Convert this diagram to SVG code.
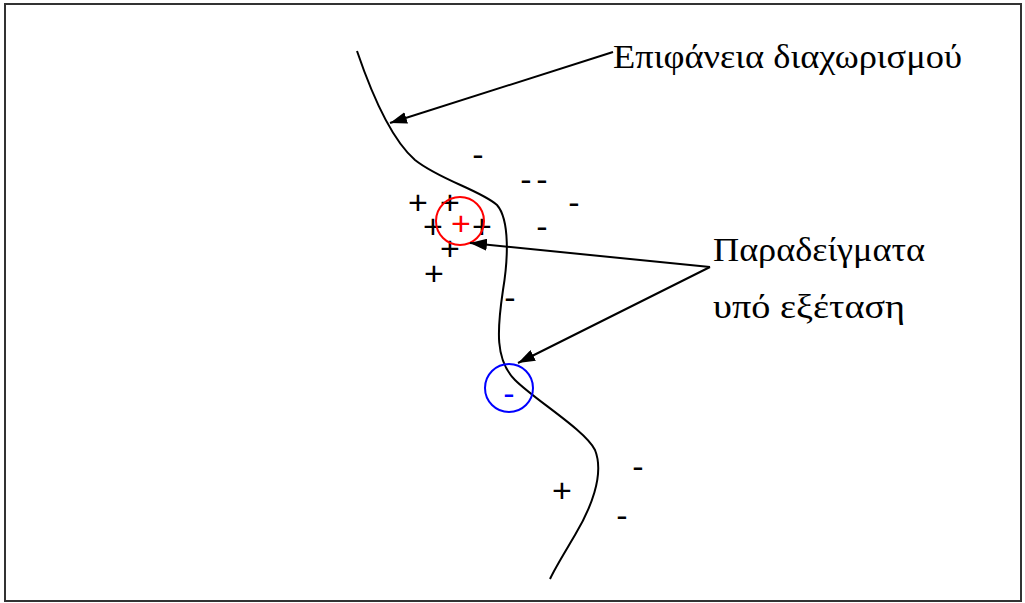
<svg xmlns="http://www.w3.org/2000/svg" width="1025" height="603" viewBox="0 0 1025 603">
<defs>
<marker id="ah" viewBox="0 0 17 12" markerUnits="userSpaceOnUse" markerWidth="17" markerHeight="12" refX="17" refY="6" orient="auto">
<path d="M0,0 L17,6 L0,12 z" fill="#000"/>
</marker>
</defs>
<style>
.lbl{font-family:"Liberation Serif","DejaVu Serif",serif;font-size:34px;fill:#000}
.sym{font-family:"Liberation Sans",Arial,sans-serif;font-size:34px;text-anchor:middle;fill:#000}
.conn{stroke:#000;stroke-width:2;fill:none}
</style>
<rect x="5" y="4" width="1016" height="597" fill="#fff" stroke="#333" stroke-width="2"/>
<g id="boundary">
<path class="conn" d="M357,51 C372,95 392,140 415,160 C440,180 480,190 497,205 C510,220 508,260 503,290 C497,330 495,360 515,380 C535,400 585,430 595,450 C605,475 590,510 575,535 C565,552 555,568 550,579"/>
</g>
<g id="samples">
<text class="sym" x="418" y="214">+</text>
<text class="sym" x="450" y="214">+</text>
<text class="sym" x="433" y="238">+</text>
<text class="sym" x="482" y="238">+</text>
<text class="sym" x="450" y="260">+</text>
<text class="sym" x="434" y="285">+</text>
<text class="sym" x="562" y="502">+</text>
<text class="sym" x="478" y="166">-</text>
<text class="sym" x="526" y="191">-</text>
<text class="sym" x="542" y="191">-</text>
<text class="sym" x="574" y="214">-</text>
<text class="sym" x="542" y="238">-</text>
<text class="sym" x="510" y="309">-</text>
<text class="sym" x="638" y="478">-</text>
<text class="sym" x="622" y="527">-</text>
</g>
<g id="test-plus">
<circle cx="460" cy="221" r="24" fill="none" stroke="#f00" stroke-width="2"/>
<text class="sym" x="461" y="235" style="fill:#f00">+</text>
</g>
<g id="test-minus">
<circle cx="509" cy="388" r="24" fill="none" stroke="#00f" stroke-width="2"/>
<text class="sym" x="509" y="405" style="fill:#00f">-</text>
</g>
<g id="label-surface">
<text class="lbl" x="613" y="68" textLength="349" lengthAdjust="spacingAndGlyphs">Επιφάνεια διαχωρισμού</text>
</g>
<g id="label-examples">
<text class="lbl" x="713" y="261" textLength="212" lengthAdjust="spacingAndGlyphs">Παραδείγματα</text>
<text class="lbl" x="713" y="318" textLength="192" lengthAdjust="spacingAndGlyphs">υπό εξέταση</text>
</g>
<g id="connectors">
<line class="conn" x1="613" y1="52" x2="390" y2="123" marker-end="url(#ah)"/>
<line class="conn" x1="710" y1="267" x2="470" y2="243" marker-end="url(#ah)"/>
<line class="conn" x1="710" y1="267" x2="518" y2="363" marker-end="url(#ah)"/>
</g>
</svg>
